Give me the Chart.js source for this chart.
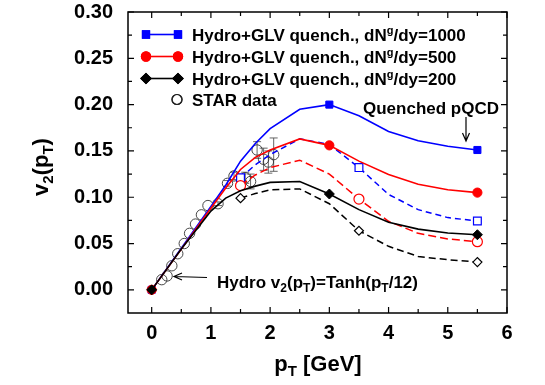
<!DOCTYPE html>
<html><head><meta charset="utf-8">
<script src="https://cdn.jsdelivr.net/npm/chart.js@4"></script>
<style>html,body{margin:0;padding:0;background:#fff}#wrap{width:545px;height:385px}canvas{display:block}</style>
</head><body>
<div id="wrap"><canvas id="c" width="545" height="385"></canvas></div>
<script>
// ---- data ----
const ptTheory = [0, 0.5, 1.0, 1.25, 1.5, 1.75, 2.0, 2.5, 3.0, 3.5, 4.0, 4.5, 5.0, 5.5];
const v2Quench1000 = [0, 0.045, 0.090, 0.113, 0.139, 0.158, 0.174, 0.195, 0.200, 0.188, 0.171, 0.161, 0.155, 0.151];
const v2Quench500  = [0, 0.044, 0.088, 0.110, 0.130, 0.143, 0.151, 0.163, 0.156, 0.139, 0.1245, 0.114, 0.108, 0.105];
const v2Quench200  = [0, 0.044, 0.085, 0.099, 0.107, 0.112, 0.116, 0.117, 0.1035, 0.0866, 0.073, 0.0656, 0.0613, 0.0595];

const ptPQCD = [1.5, 1.75, 2.0, 2.5, 3.0, 3.5, 4.0, 4.5, 5.0, 5.5];
const v2PQCD1000 = [0.121, 0.135, 0.146, 0.163, 0.157, 0.132, 0.103, 0.0866, 0.078, 0.0743];
const v2PQCD500  = [0.1125, 0.124, 0.132, 0.140, 0.125, 0.098, 0.074, 0.061, 0.055, 0.052];
const v2PQCD200  = [0.099, 0.104, 0.108, 0.109, 0.093, 0.0638, 0.047, 0.036, 0.0325, 0.030];

const starPt  = [0.17, 0.26, 0.34, 0.44, 0.55, 0.64, 0.74, 0.84, 0.95, 1.12, 1.28, 1.39, 1.58, 1.67, 1.78, 1.89, 1.97, 2.06];
const starV2  = [0.011, 0.015, 0.026, 0.039, 0.050, 0.061, 0.071, 0.081, 0.091, 0.093, 0.115, 0.123, 0.121, 0.117, 0.151, 0.141, 0.138, 0.146];
const starErr = [0, 0, 0, 0, 0, 0, 0, 0, 0, 0.002, 0.003, 0.004, 0.006, 0.008, 0.009, 0.012, 0.012, 0.018];

const solidMarkerPt  = [0, 3, 5.5];
const dashedMarkerPt = [1.5, 3.5, 5.5];
const xTickValues = [0, 1, 2, 3, 4, 5, 6];
const yTickValues = [0, 0.05, 0.10, 0.15, 0.20, 0.25, 0.30];
const legendRows = [
  ['Hydro+GLV quench., dN', 'g', '/dy=1000'],
  ['Hydro+GLV quench., dN', 'g', '/dy=500'],
  ['Hydro+GLV quench., dN', 'g', '/dy=200'],
  ['STAR data']
];

const FONT = '"Liberation Sans", Arial, Helvetica, sans-serif';
const BLUE = '#0000ff', RED = '#ff0000', BLACK = '#000000';

function pts(xs, ys) { return xs.map((x, i) => ({x: x, y: ys[i]})); }
function radii(xs, marks, r) { return xs.map(x => marks.includes(x) ? r : 0); }

function solidSet(label, ys, color, style, r, order) {
  return {label, data: pts(ptTheory, ys), showLine: true, borderColor: color, borderWidth: 1.6,
    pointStyle: style, pointRadius: radii(ptTheory, solidMarkerPt, r), pointHoverRadius: 0,
    pointBackgroundColor: color, pointBorderColor: color, pointBorderWidth: 1, tension: 0, order};
}
function dashedSet(label, ys, color, style, r, dash, order) {
  return {label, data: pts(ptPQCD, ys), showLine: true, borderColor: color, borderWidth: 1.5, borderDash: dash,
    pointStyle: style, pointRadius: radii(ptPQCD, dashedMarkerPt, r), pointHoverRadius: 0,
    pointBackgroundColor: '#ffffff', pointBorderColor: color, pointBorderWidth: 1.2, tension: 0, order};
}

function drawRich(ctx, parts, x, y, align) {
  let w = 0;
  parts.forEach(p => { ctx.font = 'bold ' + p[1] + 'px ' + FONT; w += ctx.measureText(p[0]).width; });
  let cx = align === 'center' ? x - w / 2 : x;
  ctx.textAlign = 'left'; ctx.textBaseline = 'alphabetic';
  parts.forEach(p => { ctx.font = 'bold ' + p[1] + 'px ' + FONT; ctx.fillText(p[0], cx, y + p[2]); cx += ctx.measureText(p[0]).width; });
}

function marker(ctx, style, x, y, r, fill, stroke) {
  ctx.save();
  ctx.fillStyle = fill; ctx.strokeStyle = stroke; ctx.lineWidth = 1.2;
  Chart.helpers.drawPoint(ctx, {pointStyle: style, radius: r, borderWidth: 1.2, rotation: 0}, x, y);
  ctx.fill(); ctx.stroke();
  ctx.restore();
}

const decor = {
  id: 'decor',
  beforeDatasetsDraw(chart) {
    const ctx = chart.ctx, xs = chart.scales.x, ys = chart.scales.y;
    ctx.save();
    ctx.strokeStyle = '#555'; ctx.lineWidth = 0.9;
    starPt.forEach((p, i) => {
      if (!starErr[i]) return;
      const px = xs.getPixelForValue(p);
      const y1 = ys.getPixelForValue(starV2[i] + starErr[i]);
      const y2 = ys.getPixelForValue(starV2[i] - starErr[i]);
      ctx.beginPath();
      ctx.moveTo(px, y1); ctx.lineTo(px, y2);
      ctx.moveTo(px - 4, y1); ctx.lineTo(px + 4, y1);
      ctx.moveTo(px - 4, y2); ctx.lineTo(px + 4, y2);
      ctx.stroke();
    });
    ctx.restore();
  },
  afterDraw(chart) {
    const ctx = chart.ctx, a = chart.chartArea, xs = chart.scales.x, ys = chart.scales.y;
    ctx.save();
    ctx.strokeStyle = '#000'; ctx.lineWidth = 1.5;
    ctx.strokeRect(a.left, a.top, a.right - a.left, a.bottom - a.top);
    ctx.lineWidth = 1.2;
    ctx.beginPath();
    for (let v = 0; v <= 6.001; v += 0.5) {
      const px = xs.getPixelForValue(v);
      const L = Math.abs(v - Math.round(v)) < 1e-6 ? 6 : 4;
      ctx.moveTo(px, a.bottom); ctx.lineTo(px, a.bottom - L);
      ctx.moveTo(px, a.top); ctx.lineTo(px, a.top + L);
    }
    for (let k = 0; k <= 12; k++) {
      const v = k * 0.025;
      const py = ys.getPixelForValue(v);
      const L = k % 2 === 0 ? 6 : 4;
      ctx.moveTo(a.left, py); ctx.lineTo(a.left + L, py);
      ctx.moveTo(a.right, py); ctx.lineTo(a.right - L, py);
    }
    ctx.stroke();

    ctx.fillStyle = '#000';
    const rowY = [34.5, 56.5, 78.5, 99.5];
    const styles = [['rect', BLUE, 5], ['circle', RED, 4.6], ['rectRot', BLACK, 5]];
    styles.forEach((s, i) => {
      ctx.strokeStyle = s[1]; ctx.lineWidth = 1.6;
      ctx.beginPath(); ctx.moveTo(146, rowY[i]); ctx.lineTo(178, rowY[i]); ctx.stroke();
      marker(ctx, s[0], 146, rowY[i], s[2], s[1], s[1]);
      marker(ctx, s[0], 178, rowY[i], s[2], s[1], s[1]);
    });
    marker(ctx, 'circle', 177, rowY[3], 5, 'rgba(0,0,0,0)', '#222');
    ctx.fillStyle = '#000';
    legendRows.forEach((r, i) => {
      const parts = [[r[0], 17, 0]];
      if (r.length > 1) { parts.push([r[1], 11, -7]); parts.push([r[2], 17, 0]); }
      drawRich(ctx, parts, 192, rowY[i] + 6, 'left');
    });

    drawRich(ctx, [['Quenched pQCD', 17, 0]], 363, 113.5, 'left');
    ctx.strokeStyle = '#000'; ctx.lineWidth = 1.2;
    ctx.beginPath();
    ctx.moveTo(466, 117); ctx.lineTo(466, 141);
    ctx.moveTo(462.5, 133); ctx.lineTo(466, 141); ctx.lineTo(469.5, 133);
    ctx.stroke();

    drawRich(ctx, [['Hydro v', 17, 0], ['2', 12, 4], ['(p', 17, 0], ['T', 12, 4], [')=Tanh(p', 17, 0], ['T', 12, 4], ['/12)', 17, 0]], 217, 287.5, 'left');
    ctx.beginPath();
    ctx.moveTo(207, 277.5); ctx.lineTo(174, 276.5);
    ctx.moveTo(182, 273); ctx.lineTo(174, 276.5); ctx.lineTo(182, 280);
    ctx.stroke();

    drawRich(ctx, [['p', 22, 0], ['T', 15, 5], [' [GeV]', 22, 0]], 318, 371, 'center');
    ctx.translate(48, 167);
    ctx.rotate(-Math.PI / 2);
    drawRich(ctx, [['v', 22, 0], ['2', 15, 5], ['(p', 22, 0], ['T', 15, 5], [')', 22, 0]], 0, 0, 'center');
    ctx.restore();
  }
};

const hiddenGrid = (len) => ({display: true, drawOnChartArea: false, drawTicks: true, tickLength: len, color: 'rgba(0,0,0,0)'});

new Chart(document.getElementById('c'), {
  type: 'scatter',
  data: {
    datasets: [
      solidSet('Hydro+GLV quench., dNg/dy=200', v2Quench200, BLACK, 'rectRot', 5, 1),
      solidSet('Hydro+GLV quench., dNg/dy=500', v2Quench500, RED, 'circle', 4.6, 2),
      solidSet('Hydro+GLV quench., dNg/dy=1000', v2Quench1000, BLUE, 'rect', 5, 3),
      dashedSet('pQCD dNg/dy=200', v2PQCD200, BLACK, 'rectRot', 4.5, [7, 4], 4),
      dashedSet('pQCD dNg/dy=500', v2PQCD500, RED, 'circle', 5, [8, 4], 5),
      dashedSet('pQCD dNg/dy=1000', v2PQCD1000, BLUE, 'rect', 5.5, [6, 4], 6),
      {label: 'STAR data', data: pts(starPt, starV2), showLine: false, pointStyle: 'circle', pointRadius: 5.2,
       pointHoverRadius: 0, pointBackgroundColor: 'rgba(0,0,0,0)', pointBorderColor: '#333', pointBorderWidth: 0.9, order: 10}
    ]
  },
  options: {
    responsive: false, animation: false, devicePixelRatio: 1,
    layout: {padding: {top: 0, right: 38, left: 0, bottom: 0}},
    plugins: {legend: {display: false}, tooltip: {enabled: false}},
    scales: {
      x: {type: 'linear', min: -0.4, max: 6,
        grid: hiddenGrid(8), border: {display: false},
        afterBuildTicks(s) { s.ticks = xTickValues.map(v => ({value: v})); },
        afterFit(s) { s.height = 72; },
        ticks: {color: '#000', font: {family: FONT, size: 20, weight: 'bold'}, padding: 0, maxRotation: 0,
          callback: v => String(v)}},
      y: {type: 'linear', min: -0.025, max: 0.30,
        grid: hiddenGrid(15), border: {display: false},
        afterBuildTicks(s) { s.ticks = yTickValues.map(v => ({value: v})); },
        afterFit(s) { s.width = 128; },
        ticks: {color: '#000', font: {family: FONT, size: 20, weight: 'bold'}, padding: 0,
          callback: v => v.toFixed(2)}}
    }
  },
  plugins: [decor]
});
</script>
</body></html>
